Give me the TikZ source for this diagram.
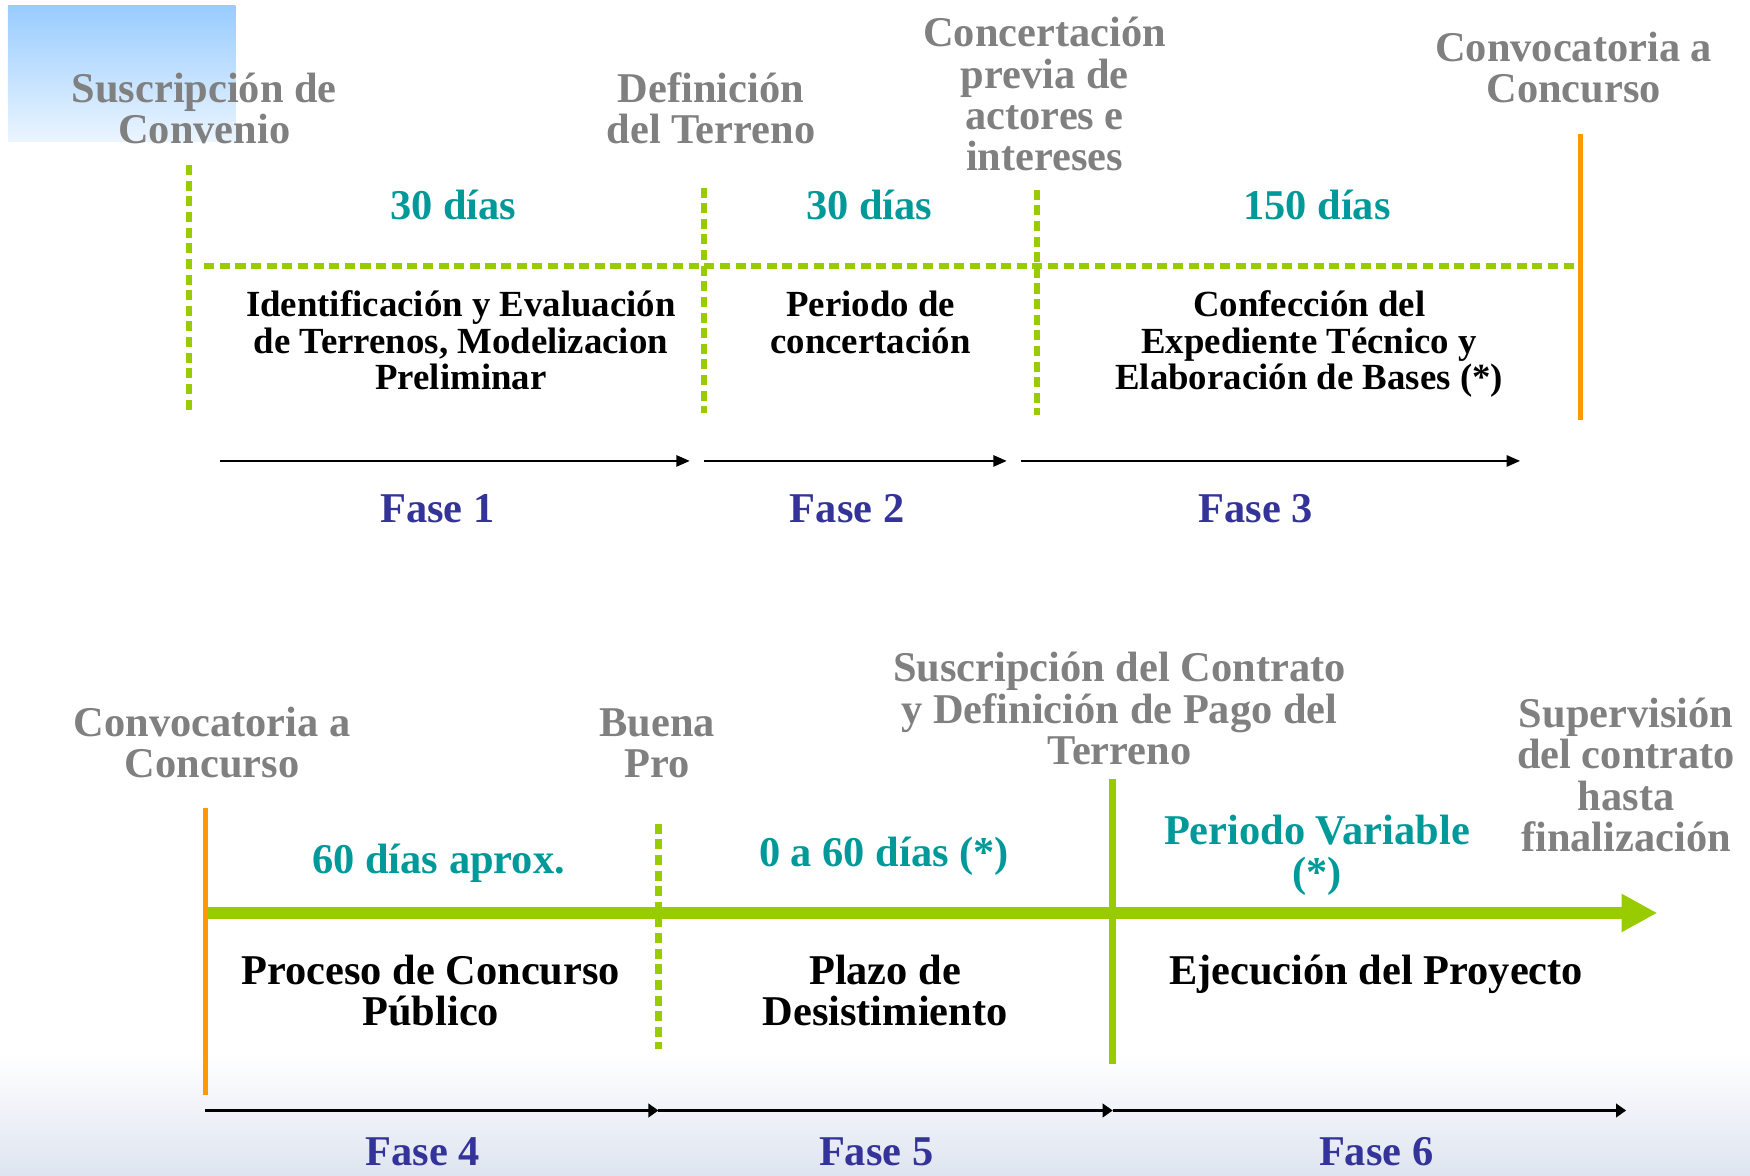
\documentclass[tikz,border=0pt]{standalone}
\usepackage{fontspec}
\setmainfont{Liberation Serif}
\usetikzlibrary{arrows.meta}
\definecolor{mygrey}{RGB}{128,128,128}
\definecolor{myteal}{RGB}{0,153,153}
\definecolor{myblue}{RGB}{51,51,153}
\definecolor{mygreen}{RGB}{153,204,0}
\definecolor{myorange}{RGB}{255,153,0}
\definecolor{skytop}{RGB}{153,204,255}
\definecolor{skybot}{RGB}{235,245,255}
\definecolor{groundbot}{RGB}{222,228,240}
\tikzset{
  lbl/.style={anchor=base, align=center, inner sep=0pt, font=\bfseries\fontsize{38}{37}\selectfont},
  milestone/.style={lbl, text=mygrey},
  duration/.style={lbl, text=myteal},
  taskbig/.style={lbl, text=black},
  tasksmall/.style={anchor=base, align=center, inner sep=0pt, text=black, font=\bfseries\fontsize{33}{32.5}\selectfont},
  phase/.style={lbl, text=myblue},
  dotline/.style={draw=mygreen, line width=5.5pt, dash pattern=on 9pt off 5pt},
  orangeline/.style={draw=myorange, line width=5pt},
  greenline/.style={draw=mygreen, line width=6pt},
  thinarrow/.style={draw=black, line width=2pt, -{Triangle[length=12pt,width=10pt]}},
  midarrow/.style={draw=black, line width=3pt, -{Triangle[length=9pt,width=12pt]}},
  bigarrow/.style={draw=mygreen, line width=10pt, -{Triangle[length=32pt,width=32pt]}},
}
\begin{document}
\begin{tikzpicture}[x=1pt, y=-1pt]
\useasboundingbox (0,0) rectangle (1568,1053);
% background
\shade[top color=white, bottom color=groundbot] (0,945) rectangle (1568,1053);
\shade[top color=skytop, bottom color=skybot] (7,5) rectangle (211,127);

% ===== top timeline =====
\node[milestone] (m1) at (183,129) {Suscripción de\\Convenio};
\node[milestone] (m2) at (637,129) {Definición\\del Terreno};
\node[milestone] (m3) at (936,153) {Concertación\\previa de\\actores e\\intereses};
\node[milestone] (m4) at (1410,92) {Convocatoria a\\Concurso};

\coordinate (v1t) at (169,148); \coordinate (v1b) at (169,368);
\coordinate (v2t) at (631,168); \coordinate (v2b) at (631,370);
\coordinate (v3t) at (929,170); \coordinate (v3b) at (929,372);
\coordinate (v4t) at (1416,120); \coordinate (v4b) at (1416,376);
\coordinate (hl) at (183,238); \coordinate (hr) at (1410,238);
\draw[dotline] (v1t) -- (v1b);
\draw[dotline] (v2t) -- (v2b);
\draw[dotline] (v3t) -- (v3b);
\draw[dotline] (hl) -- (hr);
\draw[orangeline] (v4t) -- (v4b);

\node[duration] (d1) at (406,197) {30 días};
\node[duration] (d2) at (779,197) {30 días};
\node[duration] (d3) at (1180,197) {150 días};

\node[tasksmall] (t1) at (413,349) {Identificación y Evaluación\\de Terrenos, Modelizacion\\Preliminar};
\node[tasksmall] (t2) at (780,316.5) {Periodo de\\concertación};
\node[tasksmall] (t3) at (1173,349) {Confección del\\Expediente Técnico y\\Elaboración de Bases (*)};

\coordinate (a1s) at (197,413); \coordinate (a1e) at (618,413);
\coordinate (a2s) at (631,413); \coordinate (a2e) at (902,413);
\coordinate (a3s) at (915,413); \coordinate (a3e) at (1362,413);
\draw[thinarrow] (a1s) -- (a1e);
\draw[thinarrow] (a2s) -- (a2e);
\draw[thinarrow] (a3s) -- (a3e);

\node[phase] (f1) at (392,468) {Fase 1};
\node[phase] (f2) at (759,468) {Fase 2};
\node[phase] (f3) at (1125,468) {Fase 3};

% ===== bottom timeline =====
\node[milestone] (n1) at (190,697) {Convocatoria a\\Concurso};
\node[milestone] (n2) at (589,697) {Buena\\Pro};
\node[milestone] (n3) at (1003,685) {Suscripción del Contrato\\y Definición de Pago del\\Terreno};
\node[milestone] (n4) at (1457,763) {Supervisión\\del contrato\\hasta\\finalización};

\coordinate (w1t) at (184,724); \coordinate (w1b) at (184,981);
\coordinate (w2t) at (590,738); \coordinate (w2b) at (590,940);
\coordinate (w3t) at (997,698); \coordinate (w3b) at (997,953);
\coordinate (gs) at (184,818); \coordinate (ge) at (1485,818);
\draw[bigarrow] (gs) -- (ge);
\draw[orangeline] (w1t) -- (w1b);
\draw[dotline] (w2t) -- (w2b);
\draw[greenline] (w3t) -- (w3b);

\node[duration] (e1) at (393,783) {60 días aprox.};
\node[duration] (e2) at (792,776) {0 a 60 días (*)};
\node[duration] (e3) at (1180,794) {Periodo Variable\\(*)};

\node[taskbig] (u1) at (386,919) {Proceso de Concurso\\Público};
\node[taskbig] (u2) at (793,919) {Plazo de\\Desistimiento};
\node[taskbig] (u3) at (1233,882) {Ejecución del Proyecto};

\coordinate (b1s) at (184,995); \coordinate (b1e) at (590,995);
\coordinate (b2e) at (997,995); \coordinate (b3e) at (1457,995);
\draw[midarrow] (b1s) -- (b1e);
\draw[midarrow] (b1e) -- (b2e);
\draw[midarrow] (b2e) -- (b3e);

\node[phase] (f4) at (379,1044) {Fase 4};
\node[phase] (f5) at (785,1044) {Fase 5};
\node[phase] (f6) at (1233,1044) {Fase 6};
\end{tikzpicture}
\end{document}
